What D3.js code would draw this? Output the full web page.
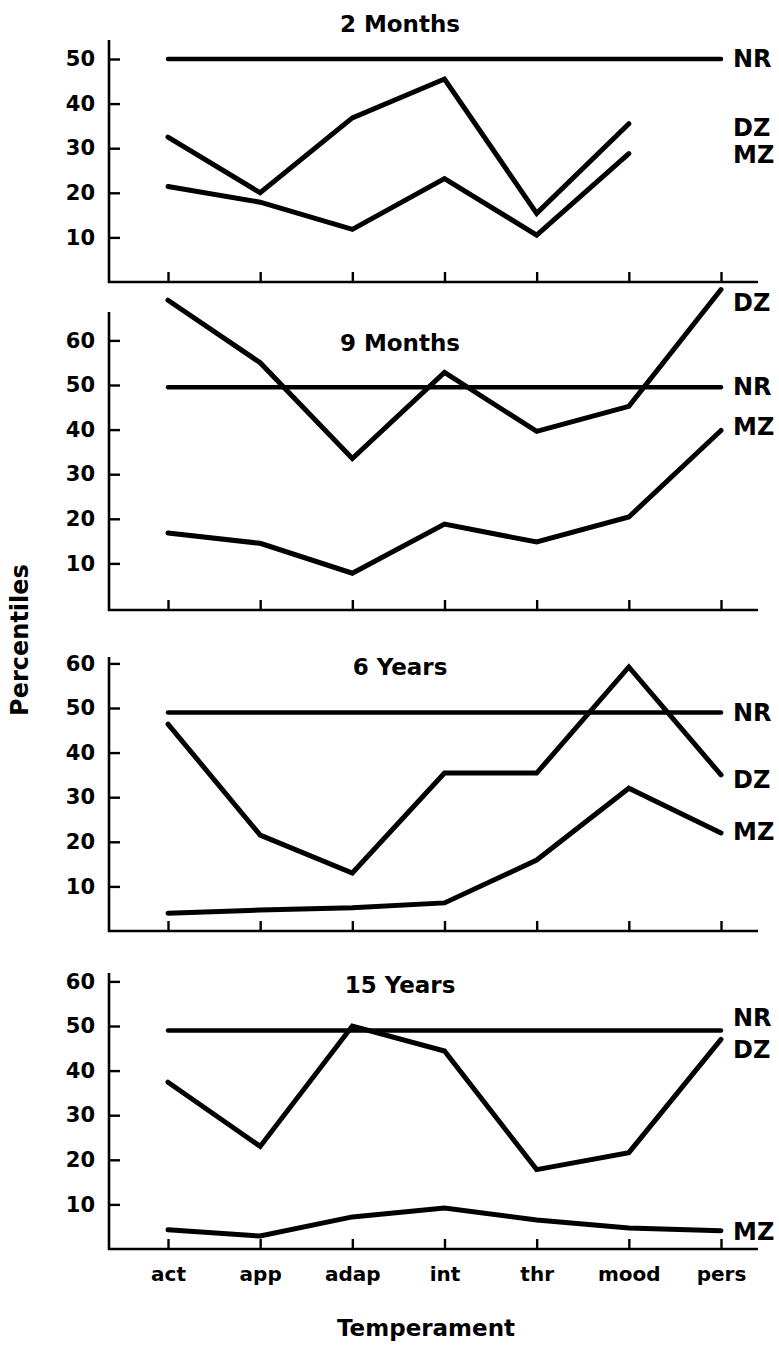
<!DOCTYPE html>
<html>
<head>
<meta charset="utf-8">
<script src="https://cdn.jsdelivr.net/npm/d3@7"></script>
<style>
  html, body { margin: 0; padding: 0; background: #fff; }
  svg { display: block; }
  text { font-family: "DejaVu Sans", "Liberation Sans", Arial, sans-serif; font-weight: bold; fill: #000; }
</style>
</head>
<body>
<svg id="chart" width="779" height="1347"></svg>
<script>
// ---------- data ----------
const categories = ["act", "app", "adap", "int", "thr", "mood", "pers"];
const panelTitles = ["2 Months", "9 Months", "6 Years", "15 Years"];
const seriesNames = ["NR", "DZ", "MZ"];

const nr2m  = [50, 50, 50, 50, 50, 50, 50];
const dz2m  = [32.5, 20, 36.8, 45.5, 15.4, 35.5, null];
const mz2m  = [21.4, 17.9, 11.8, 23.2, 10.5, 28.8, null];

const nr9m  = [49.5, 49.5, 49.5, 49.5, 49.5, 49.5, 49.5];
const dz9m  = [69, 55, 33.5, 52.8, 39.6, 45.2, 71.4];
const mz9m  = [16.8, 14.5, 7.8, 18.8, 14.8, 20.4, 39.8];

const nr6y  = [49, 49, 49, 49, 49, 49, 49];
const dz6y  = [46.4, 21.5, 13, 35.4, 35.4, 59.2, 35];
const mz6y  = [4, 4.7, 5.2, 6.3, 15.9, 32, 22];

const nr15y = [49, 49, 49, 49, 49, 49, 49];
const dz15y = [37.4, 23, 50, 44.4, 17.8, 21.6, 47];
const mz15y = [4.3, 2.9, 7.2, 9.2, 6.5, 4.7, 4.1];

const yTicks2m = [10, 20, 30, 40, 50];
const yTicksOther = [10, 20, 30, 40, 50, 60];

const yAxisTitle = "Percentiles";
const xAxisTitle = "Temperament";

// ---------- layout (positions only) ----------
const layout = [
  { zeroY: 282,   topY: 40,  axisY: 282, titleY: 24,  ticks: yTicks2m,   series: [nr2m, dz2m, mz2m],   labelY: [50, 34.5, 28.5] },
  { zeroY: 608,   topY: 312, axisY: 610, titleY: 343, ticks: yTicksOther, series: [nr9m, dz9m, mz9m],  labelY: [49.5, 68.4, 40.6] },
  { zeroY: 931,   topY: 657, axisY: 931, titleY: 667, ticks: yTicksOther, series: [nr6y, dz6y, mz6y],  labelY: [48.9, 33.9, 22.2] },
  { zeroY: 1249,  topY: 973, axisY: 1249, titleY: 985, ticks: yTicksOther, series: [nr15y, dz15y, mz15y], labelY: [51.8, 44.6, 3.8] }
];
const pxPer10 = 44.6;
const axisX = 109;
const xAxisRight = 758;
const labelX = 733;

const svg = d3.select("#chart");

const x = d3.scalePoint().domain(categories).range([168, 721]);

layout.forEach((p, i) => {
  const y = d3.scaleLinear().domain([0, 10]).range([p.zeroY, p.zeroY - pxPer10]);
  const g = svg.append("g");

  // y axis line
  g.append("line")
    .attr("x1", axisX).attr("x2", axisX)
    .attr("y1", p.topY).attr("y2", p.axisY + 1)
    .attr("stroke", "#000").attr("stroke-width", 2.6);

  // x axis line
  g.append("line")
    .attr("x1", axisX - 1).attr("x2", xAxisRight)
    .attr("y1", p.axisY).attr("y2", p.axisY)
    .attr("stroke", "#000").attr("stroke-width", 2.6);

  // y ticks (inward) + labels
  const yAxis = d3.axisLeft(y).tickValues(p.ticks).tickSize(-11).tickPadding(14).tickFormat(d3.format("d"));
  const ya = g.append("g").attr("transform", `translate(${axisX},0)`).call(yAxis);
  ya.select(".domain").remove();
  ya.selectAll(".tick line").attr("stroke", "#000").attr("stroke-width", 2.4);
  ya.selectAll(".tick text")
    .attr("font-size", 21).attr("font-family", "DejaVu Sans").attr("font-weight", "bold").attr("fill", "#000");

  // x ticks (inward, upward)
  const xAxis = d3.axisBottom(x).tickSize(-10).tickPadding(14);
  const xa = g.append("g").attr("transform", `translate(0,${p.axisY})`).call(xAxis);
  xa.select(".domain").remove();
  xa.selectAll(".tick line").attr("stroke", "#000").attr("stroke-width", 2.4);
  if (i < layout.length - 1) {
    xa.selectAll(".tick text").remove();
  } else {
    xa.selectAll(".tick text")
      .attr("font-size", 20).attr("font-family", "DejaVu Sans").attr("font-weight", "bold").attr("fill", "#000")
      .attr("dy", "0.9em");
  }

  // series lines
  const line = d3.line()
    .defined(d => d != null)
    .x((d, j) => x(categories[j]))
    .y(d => y(d));
  p.series.forEach((s, k) => {
    g.append("path")
      .datum(s)
      .attr("d", line)
      .attr("fill", "none")
      .attr("stroke", "#000")
      .attr("stroke-width", k === 0 ? 4.5 : 5)
      .attr("stroke-linejoin", "miter")
      .attr("stroke-linecap", "round");
  });

  // series labels
  seriesNames.forEach((n, k) => {
    g.append("text")
      .attr("x", labelX)
      .attr("y", y(p.labelY[k]))
      .attr("dominant-baseline", "central")
      .attr("font-size", 24)
      .text(n);
  });

  // panel title
  g.append("text")
    .attr("x", 400)
    .attr("y", p.titleY)
    .attr("text-anchor", "middle")
    .attr("dominant-baseline", "central")
    .attr("font-size", 23)
    .text(panelTitles[i]);
});

// axis titles
svg.append("text")
  .attr("transform", "translate(20,640) rotate(-90)")
  .attr("text-anchor", "middle")
  .attr("dominant-baseline", "central")
  .attr("font-size", 24)
  .text(yAxisTitle);

svg.append("text")
  .attr("x", 426)
  .attr("y", 1328)
  .attr("text-anchor", "middle")
  .attr("dominant-baseline", "central")
  .attr("font-size", 23)
  .text(xAxisTitle);
</script>
</body>
</html>
